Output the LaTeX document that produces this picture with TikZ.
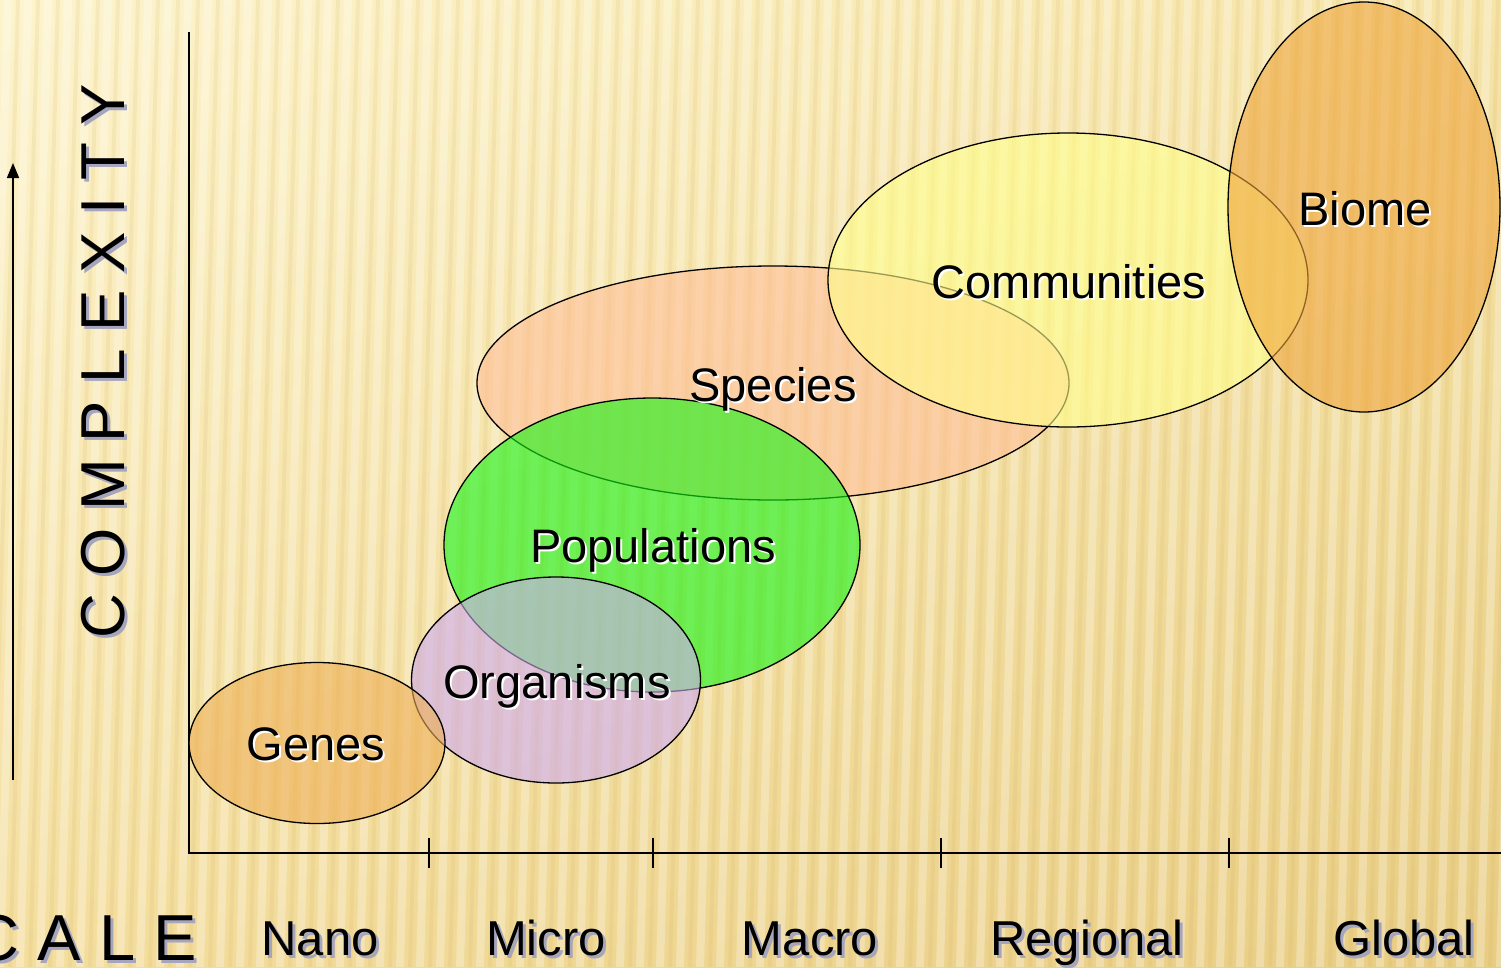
\documentclass[tikz,border=0pt]{standalone}
\usepackage{fontspec}
\setmainfont{Liberation Sans}
\usetikzlibrary{shapes.geometric,arrows.meta,shadings}
\definecolor{bgA}{RGB}{253,244,205}
\definecolor{bgB}{RGB}{246,228,168}
\definecolor{bgC}{RGB}{244,222,158}
\definecolor{bgD}{RGB}{232,204,130}
\definecolor{stripeD}{RGB}{205,170,90}
\definecolor{cGenes}{RGB}{238,175,85}
\definecolor{cOrg}{RGB}{205,170,240}
\definecolor{cPop}{RGB}{20,245,20}
\definecolor{cSpe}{RGB}{255,190,150}
\definecolor{cCom}{RGB}{255,255,140}
\definecolor{cBio}{RGB}{238,165,60}
\definecolor{shgray}{RGB}{165,165,190}
\begin{document}
\begin{tikzpicture}[x=1pt,y=-1pt,
  blob/.style={ellipse,draw=black,line width=1.3pt,inner sep=0pt,fill opacity=0.6},
  lbl/.style={font=\fontsize{47}{47}\selectfont,inner sep=0pt,anchor=base},
  axl/.style={font=\fontsize{49}{49}\selectfont,inner sep=0pt,anchor=base},
  axline/.style={line width=1.6pt,black}]
\useasboundingbox (0,0) rectangle (1501,967);
% background
\shade[upper left=bgA,upper right=bgB,lower left=bgC,lower right=bgD] (0,0) rectangle (1501,967);
\foreach \s in {-4,...,76}{
  \draw[line width=8pt,white,opacity=0.28] (\s*20,967) -- (\s*20+28,0);
  \draw[line width=4pt,stripeD,opacity=0.13] (\s*20+10,967) -- (\s*20+38,0);
}
% axes
\coordinate (top) at (189,32);
\coordinate (orig) at (189,853);
\coordinate (right) at (1501,853);
\draw[axline] (top) -- (orig) -- (right);
\foreach \t/\x in {a/429,b/653,c/941,d/1229}{
  \coordinate (t\t1) at (\x,838);
  \coordinate (t\t2) at (\x,868);
  \draw[axline] (t\t1) -- (t\t2);
}
% complexity arrow
\coordinate (arrB) at (13,780);
\coordinate (arrT) at (13,163);
\draw[line width=1.6pt,-{Triangle[length=15pt,width=12pt]}] (arrB) -- (arrT);
% ellipses
\node[blob,fill=cSpe,minimum width=592pt,minimum height=234pt] (species) at (773,383) {};
\node[blob,fill=cCom,minimum width=480pt,minimum height=294pt] (communities) at (1068,280) {};
\node[blob,fill=cBio,minimum width=272pt,minimum height=410pt] (biome) at (1364,207) {};
\node[blob,fill=cPop,minimum width=416pt,minimum height=294pt] (populations) at (652,545) {};
\node[blob,fill=cOrg,minimum width=289pt,minimum height=206pt] (organisms) at (556,680) {};
\node[blob,fill=cGenes,minimum width=256pt,minimum height=161pt] (genes) at (317,743) {};
% ellipse labels
\foreach \n/\x/\y/\t in {lGenes/316/760/Genes,lOrg/557/698/Organisms,lPop/653/562/Populations,lSpe/773/401/Species,lCom/1069/298/Communities,lBio/1365/225/Biome}{
  \node[lbl,white] (\n s) at (\x+2,\y+2) {\t};
  \node[lbl] (\n) at (\x,\y) {\t};
}
% scale labels
\foreach \n/\x/\t in {nano/320/Nano,micro/546/Micro,macro/810/Macro,regional/1087/Regional,global/1404/Global}{
  \node[axl,shgray] (\n s) at (\x+3,958) {\t};
  \node[axl] (\n) at (\x,955) {\t};
}
% axis titles
\node[rotate=90,font=\fontsize{62}{62}\selectfont,inner sep=0pt,shgray] (cmps) at (106.5,364) {C O M P L E X I T Y};
\node[rotate=90,font=\fontsize{62}{62}\selectfont,inner sep=0pt] (cmp) at (103.5,361) {C O M P L E X I T Y};
\node[anchor=east,font=\fontsize{65}{65}\selectfont,inner sep=0pt,shgray] (scls) at (200,941.5) {S C A L E};
\node[anchor=east,font=\fontsize{65}{65}\selectfont,inner sep=0pt] (scl) at (197,938.5) {S C A L E};
\end{tikzpicture}
\end{document}
